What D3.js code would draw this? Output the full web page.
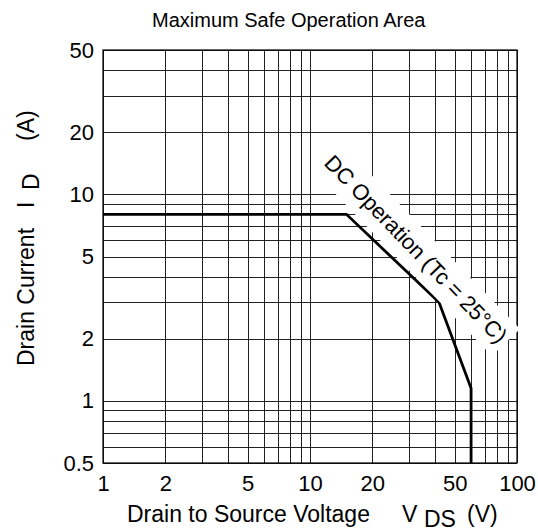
<!DOCTYPE html>
<html lang="en">
<head>
<meta charset="utf-8">
<style>
  body { margin: 0; background: #fff; }
  svg { font-family: 'Liberation Sans', Arial, sans-serif; }
  .grid line { stroke: #222; stroke-width: 1; shape-rendering: crispEdges; }
  .tick text { font-size: 22px; fill: #000; font-family: 'Liberation Sans', Arial, sans-serif; }
</style>
</head>
<body>
<div id="chart"></div>
<script src="https://cdn.jsdelivr.net/npm/d3@7"></script>
<script>
// values
var xGridVals = [1, 2, 3, 4, 5, 6, 7, 8, 9, 10, 20, 30, 40, 50, 60, 70, 80, 90, 100];
var yGridVals = [0.5, 0.6, 0.7, 0.8, 0.9, 1, 2, 3, 4, 5, 6, 7, 8, 9, 10, 20, 30, 40, 50];
var xTickVals = [1, 2, 5, 10, 20, 50, 100];
var yTickVals = [0.5, 1, 2, 5, 10, 20, 50];
var soaVoltage = [1, 15, 42, 60, 60];
var soaCurrent = [8, 8, 3, 1.15, 0.5];

var W = 538, H = 532;
var margin = {top: 50, right: 21, bottom: 69, left: 103};
var width = W - margin.left - margin.right;
var height = H - margin.top - margin.bottom;

var svg = d3.select("#chart").append("svg")
    .attr("width", W)
    .attr("height", H);

var g = svg.append("g")
    .attr("transform", "translate(" + margin.left + "," + margin.top + ")");

var x = d3.scaleLog().domain([1, 100]).range([0, width]);
var y = d3.scaleLog().domain([0.5, 50]).range([height, 0]);

// grid
var grid = g.append("g").attr("class", "grid");
grid.selectAll("line.v")
  .data(xGridVals)
  .enter().append("line")
    .attr("class", "v")
    .attr("x1", function(d) { return Math.round(x(d)) + 0.5; })
    .attr("x2", function(d) { return Math.round(x(d)) + 0.5; })
    .attr("y1", 0)
    .attr("y2", height);
grid.selectAll("line.h")
  .data(yGridVals)
  .enter().append("line")
    .attr("class", "h")
    .attr("x1", 0)
    .attr("x2", width)
    .attr("y1", function(d) { return Math.round(y(d)) + 0.5; })
    .attr("y2", function(d) { return Math.round(y(d)) + 0.5; });

g.append("rect")
  .attr("width", width)
  .attr("height", height)
  .attr("fill", "none")
  .attr("stroke", "#000")
  .attr("stroke-width", 1.2);

// axis labels
var fmt = function(d) { return d3.format("~g")(d); };
g.append("g")
  .attr("transform", "translate(0," + height + ")")
  .call(d3.axisBottom(x).tickValues(xTickVals).tickFormat(fmt).tickSize(0).tickPadding(12))
  .call(function(a) { a.select(".domain").remove(); });
g.append("g")
  .call(d3.axisLeft(y).tickValues(yTickVals).tickFormat(fmt).tickSize(0).tickPadding(9))
  .call(function(a) { a.select(".domain").remove(); });

// DC label on a white band that hides the grid
var labelG = svg.append("g")
  .attr("transform", "translate(416,249) rotate(46)");
var label = labelG.append("text")
  .attr("text-anchor", "middle")
  .attr("dy", "0.35em")
  .attr("font-size", 22)
  .text("DC Operation (Tc = 25°C)");
var bb = label.node().getBBox();
labelG.insert("rect", "text")
  .attr("x", bb.x - 4)
  .attr("y", bb.y - 7)
  .attr("width", bb.width + 8)
  .attr("height", bb.height + 14)
  .attr("fill", "#fff");

// SOA curve
var line = d3.line()
  .x(function(d) { return x(d[0]); })
  .y(function(d) { return y(d[1]); });
g.append("path")
  .datum(d3.zip(soaVoltage, soaCurrent))
  .attr("d", line)
  .attr("fill", "none")
  .attr("stroke", "#000")
  .attr("stroke-width", 2.8)
  .attr("stroke-linejoin", "miter");

// titles
svg.append("text")
  .attr("x", 152)
  .attr("y", 27)
  .attr("font-size", 20)
  .text("Maximum Safe Operation Area");

var xt = svg.append("text")
  .attr("y", 522)
  .attr("font-size", 23);
xt.append("tspan").attr("x", 127).text("Drain to Source Voltage");
xt.append("tspan").attr("x", 402).text("V");
xt.append("tspan").attr("x", 424).attr("dy", 5).text("DS");
xt.append("tspan").attr("x", 467).attr("dy", -5).text("(V)");

var yt = svg.append("text")
  .attr("transform", "translate(34,366) rotate(-90)")
  .attr("font-size", 23);
yt.append("tspan").attr("x", 0).text("Drain Current");
yt.append("tspan").attr("x", 158).text("I");
yt.append("tspan").attr("x", 176).attr("dy", 5).text("D");
yt.append("tspan").attr("x", 225).attr("dy", -5).text("(A)");
</script>
</body>
</html>
